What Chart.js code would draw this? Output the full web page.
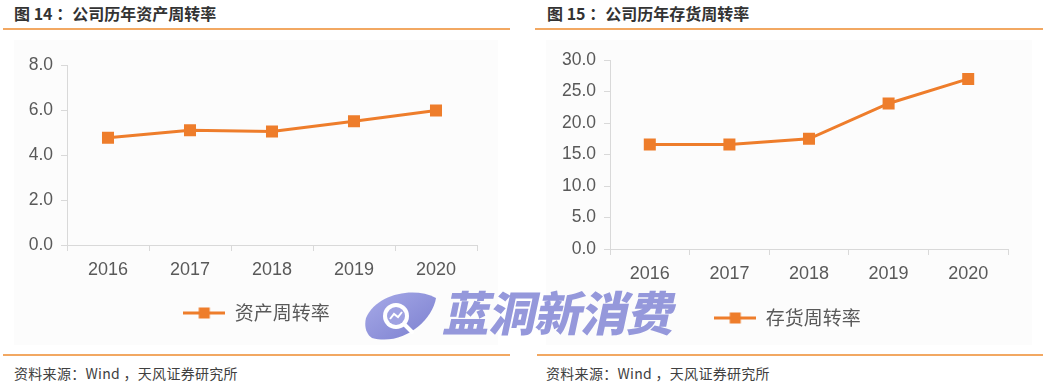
<!DOCTYPE html>
<html lang="zh-CN">
<head>
<meta charset="UTF-8">
<title>公司历年资产周转率 / 存货周转率</title>
<script src="https://cdn.jsdelivr.net/npm/chart.js"></script>
<style>
  body {
    margin: 0;
    width: 1044px;
    height: 389px;
    background: #fff;
    position: relative;
    overflow: hidden;
    font-family: "Noto Sans CJK SC", sans-serif;
  }
  .title {
    position: absolute;
    top: 1px;
    font-size: 16px;
    font-weight: bold;
    color: #333;
    white-space: pre;
  }
  .rule {
    position: absolute;
    height: 2px;
    background: #F2A862;
  }
  .source {
    position: absolute;
    top: 363px;
    font-size: 14px;
    letter-spacing: 0.3px;
    color: #404040;
    white-space: pre;
  }
  .panel-bg {
    position: absolute;
    top: 40px;
    height: 305px;
    background: #fcfcfc;
  }
  canvas.chart {
    position: absolute;
    top: 40px;
  }
  #wm-logo {
    position: absolute;
    left: 362px;
    top: 288px;
  }
  #wm-text {
    position: absolute;
    left: 446px;
    top: 276px;
    font-size: 47px;
    font-weight: 900;
    letter-spacing: -1px;
    color: #8c90d8;
    transform: skewX(-12deg);
    opacity: 0.92;
  }
</style>
</head>
<body>
  <div class="title" style="left:14px">图 14 ：公司历年资产周转率</div>
  <div class="title" style="left:547px">图 15 ：公司历年存货周转率</div>
  <div class="rule" style="left:3px; width:507px; top:28px"></div>
  <div class="rule" style="left:535px; width:508px; top:28px"></div>

  <div class="panel-bg" style="left:14px; width:484px"></div>
  <div class="panel-bg" style="left:546px; width:486px"></div>

  <canvas id="assetChart" class="chart" width="520" height="300" style="left:0"></canvas>
  <canvas id="invChart" class="chart" width="524" height="300" style="left:520px"></canvas>

  <!-- 水印 -->
  <svg id="wm-logo" width="78" height="56" viewBox="0 0 78 56">
    <defs>
      <linearGradient id="wmg" x1="0" y1="0" x2="1" y2="1">
        <stop offset="0" stop-color="#a7aae8"/>
        <stop offset="1" stop-color="#7b7fcf"/>
      </linearGradient>
    </defs>
    <path d="M4 30 C14 6 52 -2 74 10 C70 34 40 58 10 50 C4 46 2 38 4 30 Z" fill="url(#wmg)"/>
    <circle cx="34" cy="28" r="13" fill="#fff"/>
    <circle cx="34" cy="28" r="9" fill="#9fa2e2"/>
    <path d="M28 31 L32 26 L36 29 L40 24" stroke="#fff" stroke-width="2" fill="none"/>
    <path d="M43 37 L50 44" stroke="#fff" stroke-width="4" stroke-linecap="round"/>
  </svg>
  <div id="wm-text">蓝洞新消费</div>

  <div class="rule" style="left:3px; width:507px; top:354px"></div>
  <div class="rule" style="left:537px; width:506px; top:354px"></div>
  <div class="source" style="left:14px">资料来源：Wind ，天风证券研究所</div>
  <div class="source" style="left:546px">资料来源：Wind ，天风证券研究所</div>

<script>
  // 数据
  const years = ['2016', '2017', '2018', '2019', '2020'];
  const assetTurnover = [4.77, 5.10, 5.04, 5.50, 5.98];
  const inventoryTurnover = [16.6, 16.6, 17.5, 23.1, 27.0];
  const assetAxis = [0, 8, 2];       // min, max, step
  const inventoryAxis = [0, 30, 5];

  const ORANGE = '#EE7D2B';
  const AXIS = '#d9d9d9';
  const TEXT = '#595959';

  // 图例标记：线 + 方块
  function legendMarker() {
    const c = document.createElement('canvas');
    c.width = 42;
    c.height = 14;
    const g = c.getContext('2d');
    g.strokeStyle = ORANGE;
    g.lineWidth = 3;
    g.beginPath();
    g.moveTo(0, 7);
    g.lineTo(42, 7);
    g.stroke();
    g.fillStyle = ORANGE;
    g.fillRect(15.5, 1.5, 11, 11);
    return c;
  }

  // 图例稍微右移
  const legendShift = {
    id: 'legendShift',
    afterLayout(chart, args, opts) {
      if (chart.legend) {
        chart.legend.left += opts.dx || 0;
        chart.legend.right += opts.dx || 0;
      }
    }
  };

  function makeChart(id, label, values, axis, box) {
    return new Chart(document.getElementById(id), {
      type: 'line',
      data: {
        labels: years,
        datasets: [{
          label: label,
          data: values,
          borderColor: ORANGE,
          backgroundColor: ORANGE,
          borderWidth: 3,
          tension: 0,
          pointStyle: 'rect',
          pointRadius: 8.5,
          pointBorderWidth: 0,
          pointBackgroundColor: ORANGE
        }]
      },
      plugins: [legendShift],
      options: {
        responsive: false,
        animation: false,
        layout: {
          padding: { left: box.padLeft, right: box.padRight, top: box.padTop, bottom: box.padBottom }
        },
        plugins: {
          tooltip: { enabled: false },
          legendShift: { dx: box.legendDx },
          legend: {
            position: 'bottom',
            labels: {
              usePointStyle: true,
              pointStyle: legendMarker(),
              pointStyleWidth: 42,
              color: TEXT,
              padding: 10,
              font: { family: '"Noto Sans CJK SC", sans-serif', size: 19 }
            }
          }
        },
        scales: {
          x: {
            offset: true,
            grid: { drawOnChartArea: false, drawTicks: true, tickLength: 6, color: AXIS, offset: true },
            border: { color: AXIS },
            ticks: {
              color: TEXT,
              padding: 8,
              maxRotation: 0,
              font: { family: '"Liberation Sans", Arial, sans-serif', size: 18 }
            },
            afterFit(scale) { scale.height = box.xHeight; }
          },
          y: {
            min: axis[0],
            max: axis[1],
            grid: { drawOnChartArea: false, drawTicks: true, tickLength: 6, color: AXIS },
            border: { color: AXIS },
            ticks: {
              stepSize: axis[2],
              color: TEXT,
              padding: 8,
              font: { family: '"Liberation Sans", Arial, sans-serif', size: 17.5 },
              callback: v => v.toFixed(1)
            },
            afterFit(scale) { scale.width = box.yWidth; }
          }
        }
      }
    });
  }

  makeChart('assetChart', '资产周转率', assetTurnover, assetAxis,
    { padLeft: 26, padRight: 43, padTop: 25, padBottom: 7.5, yWidth: 41, xHeight: 48.5, legendDx: 5 });
  makeChart('invChart', '存货周转率', inventoryTurnover, inventoryAxis,
    { padLeft: 39, padRight: 36, padTop: 20, padBottom: 2.5, yWidth: 51, xHeight: 49.5, legendDx: 4 });
</script>
</body>
</html>
